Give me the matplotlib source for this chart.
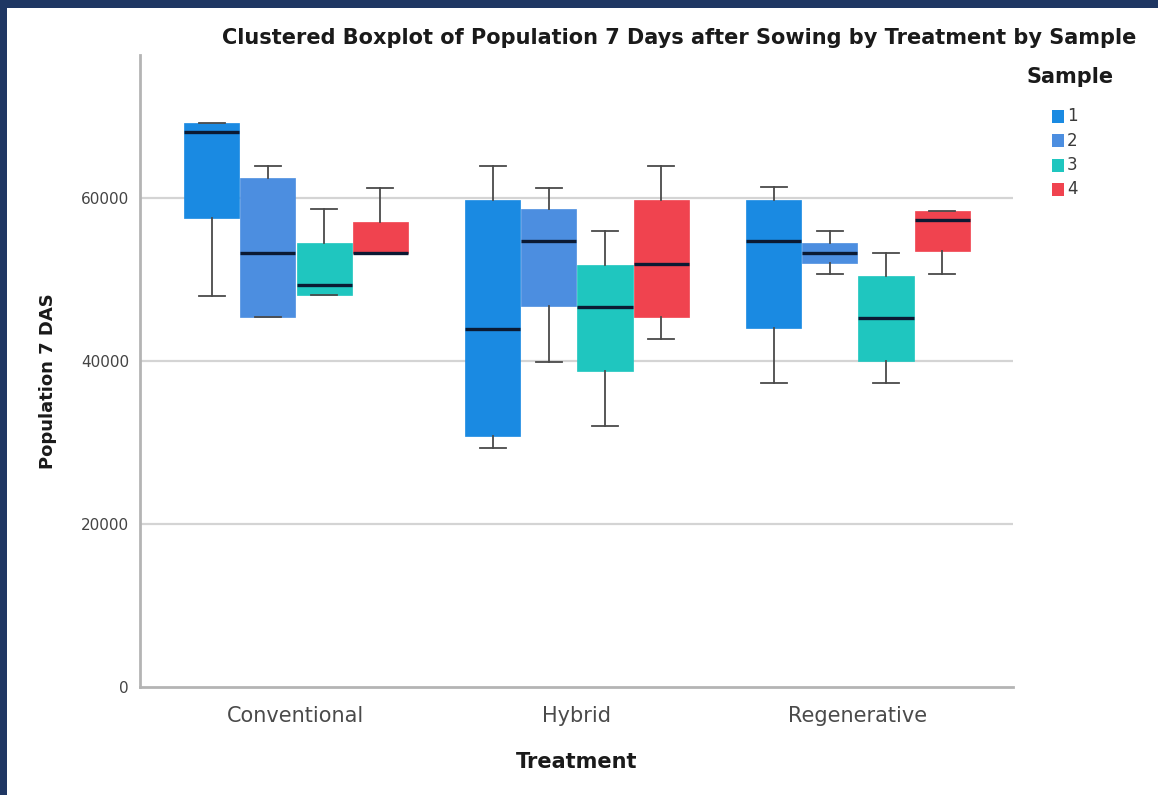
import matplotlib
matplotlib.use("Agg")
import matplotlib.pyplot as plt
from matplotlib.patches import Rectangle

plt.rcParams['font.family'] = ['DejaVu Sans']

treatments = ["Conventional", "Hybrid", "Regenerative"]
samples = ["1", "2", "3", "4"]
sample_colors = ["#1a8ae2", "#4c8ee0", "#1fc6bf", "#f0434f"]

# Box statistics per treatment, one value per sample (1..4)
low_whisker = [[48000, 45400, 48100, 53250],
               [29300, 39900, 32000, 42700],
               [37300, 50700, 37300, 50700]]
q1 = [[57550, 45400, 48100, 53250],
      [30800, 46750, 38750, 45400],
      [44050, 52050, 40000, 53500]]
median = [[68100, 53250, 49350, 53250],
          [43950, 54700, 46650, 51900],
          [54700, 53250, 45300, 57300]]
q3 = [[69200, 62450, 54500, 57050],
      [59750, 58650, 51800, 59750],
      [59750, 54500, 50450, 58400]]
high_whisker = [[69200, 63900, 58650, 61250],
                [63900, 61250, 55950, 63900],
                [61350, 55950, 53250, 58400]]

y_ticks = [0, 20000, 40000, 60000]

W, H, DPI = 1158, 795, 100
fig = plt.figure(figsize=(W / DPI, H / DPI), dpi=DPI)
fig.patch.set_facecolor("white")

ax = fig.add_axes([140 / W, 1 - 687 / H, (1013 - 140) / W, (687 - 55) / H])

offsets = [-0.3, -0.1, 0.1, 0.3]
box_w = 0.196
for s, color in enumerate(sample_colors):
    stats = []
    for t in range(len(treatments)):
        stats.append(dict(whislo=low_whisker[t][s], q1=q1[t][s], med=median[t][s],
                          q3=q3[t][s], whishi=high_whisker[t][s], fliers=[]))
    pos = [t + offsets[s] for t in range(len(treatments))]
    ax.bxp(stats, positions=pos, widths=box_w, patch_artist=True, showfliers=False,
           capwidths=0.093,
           boxprops=dict(facecolor=color, edgecolor=color, linewidth=0.5),
           medianprops=dict(color="#0b1a33", linewidth=2.4, solid_capstyle="butt"),
           whiskerprops=dict(color="#4a4a4a", linewidth=1.3),
           capprops=dict(color="#4a4a4a", linewidth=1.3),
           zorder=3)

ax.set_xlim(-0.555, 2.552)
ax.set_ylim(0, 77500)
ax.set_yticks(y_ticks)
ax.set_yticklabels([str(v) for v in y_ticks], fontsize=11, color="#444444")
ax.set_xticks(range(len(treatments)))
ax.set_xticklabels(treatments, fontsize=15, color="#4a4a4a")
ax.tick_params(axis="both", length=0)
ax.tick_params(axis="y", pad=8)
ax.tick_params(axis="x", pad=14)
for v in y_ticks[1:]:
    ax.axhline(v, color="#d4d4d4", linewidth=1.6, zorder=1)
for side in ["top", "right"]:
    ax.spines[side].set_visible(False)
for side in ["left", "bottom"]:
    ax.spines[side].set_color("#b4b4b4")
    ax.spines[side].set_linewidth(2.0)

# Axis titles placed in figure coordinates
ax.set_xlabel("Treatment", fontsize=15, fontweight="bold", color="#1a1a1a", va="center")
ax.xaxis.set_label_coords(577 / W, 1 - 762 / H, transform=fig.transFigure)
ax.set_ylabel("Population 7 DAS", fontsize=13, fontweight="bold", color="#1a1a1a", va="center")
ax.yaxis.set_label_coords(48 / W, 1 - 381 / H, transform=fig.transFigure)

fig.text(679 / W, 1 - 38 / H, "Clustered Boxplot of Population 7 Days after Sowing by Treatment by Sample",
         ha="center", va="center", fontsize=15, fontweight="bold", color="#1a1a1a")

# Legend drawn in figure coordinates
fig.text(1026 / W, 1 - 77 / H, "Sample", ha="left", va="center", fontsize=15,
         fontweight="bold", color="#1a1a1a")
for i, (lab, color) in enumerate(zip(samples, sample_colors)):
    yc = 116 + i * 24.5
    fig.patches.append(Rectangle((1052 / W, 1 - (yc + 6.5) / H), 12 / W, 13 / H,
                                 transform=fig.transFigure, facecolor=color,
                                 edgecolor="none"))
    fig.text(1067 / W, 1 - yc / H, lab, ha="left", va="center", fontsize=12,
             color="#3a3a3a")

# Navy frame along the top and left edges
navy = "#1f3763"
fig.patches.append(Rectangle((0, 1 - 8 / H), 1, 8 / H, transform=fig.transFigure,
                             facecolor=navy, edgecolor="none"))
fig.patches.append(Rectangle((0, 0), 7 / W, 1, transform=fig.transFigure,
                             facecolor=navy, edgecolor="none"))

fig.savefig("out.png", dpi=DPI)
